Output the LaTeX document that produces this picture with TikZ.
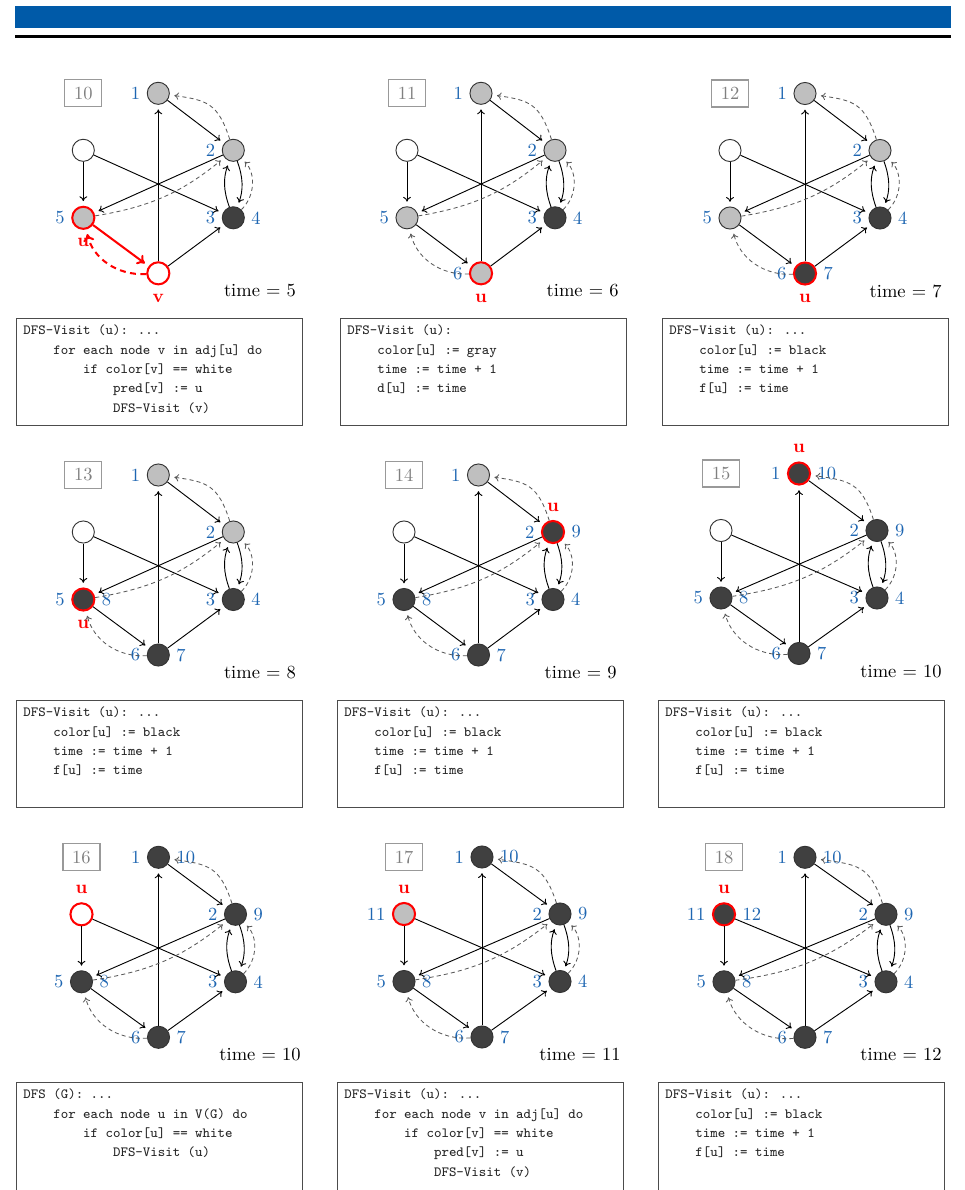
\documentclass[tikz,border=0pt]{standalone}
\usepackage{fontspec}
\usetikzlibrary{arrows.meta}

\definecolor{headblue}{RGB}{0,90,168}
\definecolor{numblue}{RGB}{30,102,178}

% four columns of indentation in the listings
\newcommand{\ind}{\phantom{xxxx}}
\newcommand{\codetext}[2][50.8pt]{\parbox[t][#1][t]{147pt}{#2}}

% one step of the search: step number, graph, clock
% #1 step, #2/#3 top vertex, #4 half width, #5 clock x, #6 time
\newcommand{\dfsstep}[6]{%
  \begin{scope}[shift={(#2,-#3)}]
    \node[stepno] (no#1) at (-#4,0) {#1};
    \node[vtx, na] (a#1) at (0,0) {};
    \node[vtx, nb] (b#1) at (#4,-57) {};
    \node[vtx, nc] (c#1) at (#4,-124.5) {};
    \node[vtx, nd] (d#1) at (-#4,-124.5) {};
    \node[vtx, ne] (e#1) at (0,-180) {};
    \node[vtx, nf] (f#1) at (-#4,-57) {};
    \draw[arr] (a#1) -- (b#1);
    \draw[arr] (b#1) to[bend left=20] (c#1);
    \draw[arr] (c#1) to[bend left=20] (b#1);
    \draw[arr] (b#1) -- (d#1);
    \draw[arr] (f#1) -- (d#1);
    \draw[arr] (f#1) -- (c#1);
    \draw[arr] (e#1) -- (a#1);
    \draw[arr] (e#1) -- (c#1);
    \draw[arr, hotedge] (d#1) -- (e#1);
    % predecessor pointers
    \draw[pred] (b#1) to[out=108, in=-8, looseness=1.3] (a#1);
    \draw[pred] (c#1) to[bend right=45] (b#1);
    \draw[pred] (d#1) to[bend right=15] (b#1);
    \draw[pred, hotpred] (e#1) to[bend left=40] (d#1);
    \node[clock] (t#1) at (#5,-203.5) {time $=$ #6};
  \end{scope}}

\begin{document}
\begin{tikzpicture}[
    x=0.019cm, y=0.019cm,
    vtx/.style={circle, draw=black!80, line width=0.5pt, minimum size=0.42cm, inner sep=0pt, fill=white},
    blank/.style={fill=white},
    seen/.style={fill=black!25},
    done/.style={fill=black!75},
    num/.style={text=numblue, font=\normalsize},
    tin/.style={label={[num]left:#1}},
    tout/.style={label={[num]right:#1}},
    who/.style={text=red, font=\bfseries, inner sep=4.5pt},
    cur/.style={draw=red, line width=1.1pt, label={[who]#1}},
    arr/.style={-{To[length=2.6pt,width=4.2pt]}, line width=0.5pt, shorten >=2.5pt},
    pred/.style={-{To[length=2.4pt,width=4pt]}, draw=black!65, line width=0.45pt, dash pattern=on 2.2pt off 1.7pt, shorten >=2.5pt},
    hot/.style={draw=red, line width=1.1pt, -{To[length=4pt,width=6pt]}},
    hotedge/.style={}, hotpred/.style={},
    na/.style={}, nb/.style={}, nc/.style={}, nd/.style={}, ne/.style={}, nf/.style={},
    stepno/.style={draw=black!40, text=black!50, line width=0.6pt, minimum width=20pt, minimum height=14.6pt, inner sep=0pt},
    clock/.style={anchor=base east, inner sep=0pt},
    code/.style={draw=black!70, line width=0.5pt, anchor=north west, inner xsep=3.8pt, inner ysep=3.5pt,
                 font=\ttfamily\fontsize{7.6}{10.5}\selectfont, text=black!85}
]
  \useasboundingbox (0,0) rectangle (964,-1190);
  \clip (0,0) rectangle (964,-1190);
  \fill[white] (0,0) rectangle (964,-1190);

  % title bar
  \fill[headblue] (15,-6) rectangle (951,-28);
  \fill[black] (15,-35) rectangle (951,-38);

  % --- first row ---
  \begin{scope}[na/.style={seen, tin=1}, nb/.style={seen, tin=2}, nc/.style={done, tin=3, tout=4},
                nd/.style={seen, tin=5, cur=below:u}, ne/.style={blank, cur=below:v}, nf/.style={blank},
                hotedge/.style={hot}, hotpred/.style={hot, dash pattern=on 3.2pt off 2.4pt}]
    \dfsstep{10}{158.3}{93.3}{75}{138}{5}
  \end{scope}
  \begin{scope}[na/.style={seen, tin=1}, nb/.style={seen, tin=2}, nc/.style={done, tin=3, tout=4},
                nd/.style={seen, tin=5}, ne/.style={seen, tin=6, cur=below:u}, nf/.style={blank}]
    \dfsstep{11}{481}{93.3}{74}{138}{6}
  \end{scope}
  \begin{scope}[na/.style={seen, tin=1}, nb/.style={seen, tin=2}, nc/.style={done, tin=3, tout=4},
                nd/.style={seen, tin=5}, ne/.style={done, tin=6, tout=7, cur=below:u}, nf/.style={blank}]
    \dfsstep{12}{805}{93.5}{75}{137}{7}
  \end{scope}

  \node[code] (code10) at (16,-318) {\codetext{DFS-Visit (u): ...\\
    \ind for each node v in adj[u] do\\
    \ind\ind if color[v] == white\\
    \ind\ind\ind pred[v] := u\\
    \ind\ind\ind DFS-Visit (v)}};
  \node[code] (code11) at (340,-318) {\codetext{DFS-Visit (u):\\
    \ind color[u] := gray\\
    \ind time := time + 1\\
    \ind d[u] := time}};
  \node[code] (code12) at (662,-318) {\codetext{DFS-Visit (u): ...\\
    \ind color[u] := black\\
    \ind time := time + 1\\
    \ind f[u] := time}};

  % --- second row ---
  \begin{scope}[na/.style={seen, tin=1}, nb/.style={seen, tin=2}, nc/.style={done, tin=3, tout=4},
                nd/.style={done, tin=5, tout=8, cur=below:u}, ne/.style={done, tin=6, tout=7}, nf/.style={blank}]
    \dfsstep{13}{158.3}{475}{75}{138}{8}
  \end{scope}
  \begin{scope}[na/.style={seen, tin=1}, nb/.style={done, tin=2, tout=9, cur=above:u}, nc/.style={done, tin=3, tout=4},
                nd/.style={done, tin=5, tout=8}, ne/.style={done, tin=6, tout=7}, nf/.style={blank}]
    \dfsstep{14}{478.5}{475}{74.5}{138.5}{9}
  \end{scope}
  \begin{scope}[na/.style={done, tin=1, tout=10, cur=above:u}, nb/.style={done, tin=2, tout=9}, nc/.style={done, tin=3, tout=4},
                nd/.style={done, tin=5, tout=8}, ne/.style={done, tin=6, tout=7}, nf/.style={blank}]
    \dfsstep{15}{799}{473.5}{78}{143}{10}
  \end{scope}

  \node[code] (code13) at (16,-700) {\codetext{DFS-Visit (u): ...\\
    \ind color[u] := black\\
    \ind time := time + 1\\
    \ind f[u] := time}};
  \node[code] (code14) at (337,-700) {\codetext{DFS-Visit (u): ...\\
    \ind color[u] := black\\
    \ind time := time + 1\\
    \ind f[u] := time}};
  \node[code] (code15) at (658,-700) {\codetext{DFS-Visit (u): ...\\
    \ind color[u] := black\\
    \ind time := time + 1\\
    \ind f[u] := time}};

  % --- third row ---
  \begin{scope}[na/.style={done, tin=1, tout=10}, nb/.style={done, tin=2, tout=9}, nc/.style={done, tin=3, tout=4},
                nd/.style={done, tin=5, tout=8}, ne/.style={done, tin=6, tout=7}, nf/.style={blank, cur=above:u}]
    \dfsstep{16}{158.5}{857.3}{77}{142.5}{10}
  \end{scope}
  \begin{scope}[na/.style={done, tin=1, tout=10}, nb/.style={done, tin=2, tout=9}, nc/.style={done, tin=3, tout=4},
                nd/.style={done, tin=5, tout=8}, ne/.style={done, tin=6, tout=7}, nf/.style={seen, tin=11, cur=above:u}]
    \dfsstep{17}{482}{857}{78}{139}{11}
  \end{scope}
  \begin{scope}[na/.style={done, tin=1, tout=10}, nb/.style={done, tin=2, tout=9}, nc/.style={done, tin=3, tout=4},
                nd/.style={done, tin=5, tout=8}, ne/.style={done, tin=6, tout=7}, nf/.style={done, tin=11, tout=12, cur=above:u}]
    \dfsstep{18}{805}{857.3}{81}{137}{12}
  \end{scope}

  \node[code] (code16) at (16,-1082) {\codetext[62pt]{DFS (G): ...\\
    \ind for each node u in V(G) do\\
    \ind\ind if color[u] == white\\
    \ind\ind\ind DFS-Visit (u)}};
  \node[code] (code17) at (337,-1082) {\codetext[62pt]{DFS-Visit (u): ...\\
    \ind for each node v in adj[u] do\\
    \ind\ind if color[v] == white\\
    \ind\ind\ind pred[v] := u\\
    \ind\ind\ind DFS-Visit (v)}};
  \node[code] (code18) at (658,-1082) {\codetext[62pt]{DFS-Visit (u): ...\\
    \ind color[u] := black\\
    \ind time := time + 1\\
    \ind f[u] := time}};
\end{tikzpicture}
\end{document}
